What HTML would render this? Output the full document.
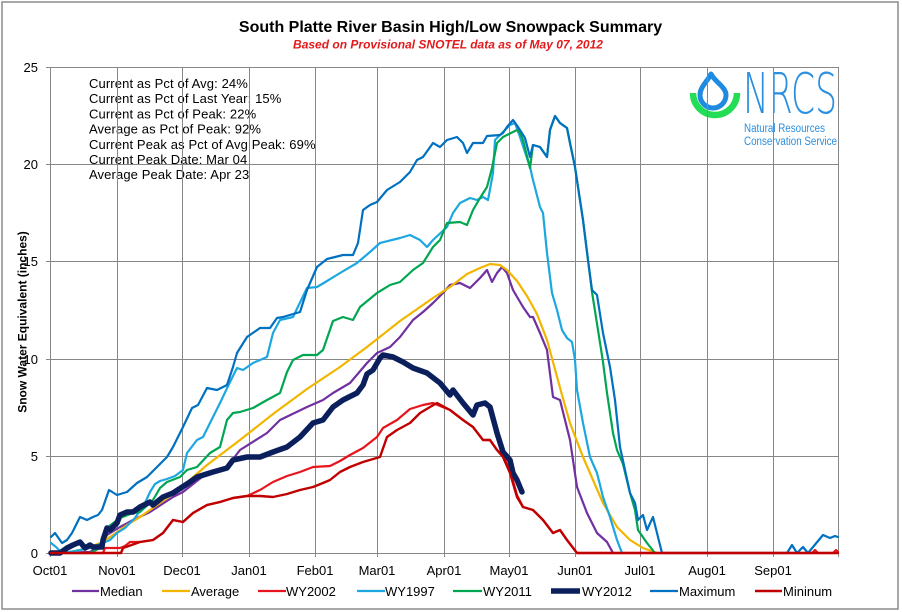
<!DOCTYPE html>
<html><head><meta charset="utf-8"><style>
html,body{margin:0;padding:0;background:#fff;}
svg{display:block;font-family:"Liberation Sans",Arial,sans-serif;}
</style></head><body>
<svg width="902" height="612" viewBox="0 0 902 612" xmlns="http://www.w3.org/2000/svg">
<rect x="0" y="0" width="902" height="612" fill="#fff"/>
<rect x="2" y="2" width="896" height="607" fill="none" stroke="#8c8c8c" stroke-width="1.5"/>

<!-- Titles -->
<text x="450.5" y="32" text-anchor="middle" font-weight="bold" font-size="16" fill="#000">South Platte River Basin High/Low Snowpack Summary</text>
<text x="448" y="48.5" text-anchor="middle" font-weight="bold" font-style="italic" font-size="12" fill="#e31a1c">Based on Provisional SNOTEL data as of May 07, 2012</text>

<!-- Logo -->
<path d="M693,93 A22,22 0 0 0 737,93" fill="none" stroke="#22dd55" stroke-width="6.5"/>
<path d="M711,74 C707,82 700,87 700,95 A13,13 0 0 0 726,95 C726,87 715,82 711,74 Z" fill="#fff" stroke="#1e8be0" stroke-width="5" stroke-linejoin="round"/>
<text x="743" y="113" font-family="DejaVu Sans ExtraLight, DejaVu Sans, Liberation Sans, sans-serif" font-weight="200" font-size="56" textLength="94" lengthAdjust="spacingAndGlyphs" fill="#2a8fe0">NRCS</text>
<text x="744" y="132" font-size="11.5" textLength="81" lengthAdjust="spacingAndGlyphs" fill="#2a8fe0">Natural Resources</text>
<text x="744" y="145" font-size="11.5" textLength="93" lengthAdjust="spacingAndGlyphs" fill="#2a8fe0">Conservation Service</text>

<!-- Stats text -->
<g font-size="13" fill="#000" letter-spacing="0.12">
<text x="89" y="88">Current as Pct of Avg: 24%</text>
<text x="89" y="103.2">Current as Pct of Last Year: 15%</text>
<text x="89" y="118.4">Current as Pct of Peak: 22%</text>
<text x="89" y="133.6">Average as Pct of Peak: 92%</text>
<text x="89" y="148.8">Current Peak as Pct of Avg Peak: 69%</text>
<text x="89" y="164">Current Peak Date: Mar 04</text>
<text x="89" y="179.2">Average Peak Date: Apr 23</text>
</g>

<!-- Grid -->
<g stroke="#878787" stroke-width="1" shape-rendering="crispEdges">
<line x1="46" y1="67.5" x2="838.5" y2="67.5"/>
<line x1="46" y1="164.5" x2="838.5" y2="164.5"/>
<line x1="46" y1="261.5" x2="838.5" y2="261.5"/>
<line x1="46" y1="359.5" x2="838.5" y2="359.5"/>
<line x1="46" y1="456.5" x2="838.5" y2="456.5"/>
<line x1="46" y1="553.5" x2="838.5" y2="553.5"/>
<line x1="50.5" y1="67" x2="50.5" y2="557"/>
<line x1="117.5" y1="67" x2="117.5" y2="557"/>
<line x1="182.5" y1="67" x2="182.5" y2="557"/>
<line x1="249.5" y1="67" x2="249.5" y2="557"/>
<line x1="315.5" y1="67" x2="315.5" y2="557"/>
<line x1="377.5" y1="67" x2="377.5" y2="557"/>
<line x1="444.5" y1="67" x2="444.5" y2="557"/>
<line x1="509.5" y1="67" x2="509.5" y2="557"/>
<line x1="575.5" y1="67" x2="575.5" y2="557"/>
<line x1="640.5" y1="67" x2="640.5" y2="557"/>
<line x1="707.5" y1="67" x2="707.5" y2="557"/>
<line x1="773.5" y1="67" x2="773.5" y2="557"/>
<line x1="838.5" y1="67" x2="838.5" y2="557"/>
</g>

<!-- Axis labels -->
<g font-size="13" fill="#000" text-anchor="end">
<text x="38" y="72">25</text>
<text x="38" y="169">20</text>
<text x="38" y="266">15</text>
<text x="38" y="364">10</text>
<text x="38" y="461">5</text>
<text x="38" y="558">0</text>
</g>
<g font-size="13" fill="#000" text-anchor="middle">
<text x="50" y="575">Oct01</text>
<text x="117" y="575">Nov01</text>
<text x="182" y="575">Dec01</text>
<text x="249" y="575">Jan01</text>
<text x="315" y="575">Feb01</text>
<text x="377" y="575">Mar01</text>
<text x="444" y="575">Apr01</text>
<text x="509" y="575">May01</text>
<text x="575" y="575">Jun01</text>
<text x="640" y="575">Jul01</text>
<text x="707" y="575">Aug01</text>
<text x="773" y="575">Sep01</text>
</g>
<text transform="translate(26.5,322) rotate(-90)" text-anchor="middle" font-weight="bold" font-size="12" fill="#000">Snow Water Equivalent (inches)</text>

<!-- Series -->
<g fill="none" stroke-linejoin="round" stroke-linecap="round">
<!-- Median -->
<polyline stroke="#7030a0" stroke-width="2.2" points="51,553 90,552 100,546 107,535 120,527 133,520 150,512 173,497 183,492 207,473 227,467 240,450 267,433 280,420 307,407 323,400 333,393 350,383 367,363 377,353 390,347 400,337 413,320 423,312 433,303 443,293 450,285 460,283 470,288 480,278 487,270 492,282 497,273 502,267 507,273 513,290 523,307 530,317 533,317 540,333 547,350 553,397 560,400 570,440 577,487 587,513 597,533 607,542 613,553"/>
<!-- Average -->
<polyline stroke="#f2b600" stroke-width="2.2" points="51,553 70,552 85,549 100,543 110,537 120,530 130,523 140,517 150,510 160,503 170,496 183,486 207,465 240,440 273,414 307,389 340,367 367,347 400,321 433,298 450,287 467,274 480,268 490,264 500,265 507,270 517,281 527,296 537,314 547,340 553,362 562,395 570,423 583,457 593,480 603,503 617,527 630,540 643,548 657,553"/>
<!-- WY2002 -->
<polyline stroke="#e8141b" stroke-width="2.2" points="51,553 103,553 105,548 120,548 125,546 130,542 140,542 153,540 163,533 173,520 183,522 193,513 207,505 220,502 233,498 247,496 260,490 273,482 287,476 300,472 313,467 330,466 340,461 350,455 363,448 377,437 383,428 397,420 410,409 423,405 433,403 440,406 450,410 463,420 473,427 483,440 490,440 497,450 503,455 510,470 517,495 523,507 533,510 543,520 553,533 560,530 567,540 577,553 812,553 815,550 818,553 833,553 836,550 838,552"/>
<!-- WY1997 -->
<polyline stroke="#1ca7e1" stroke-width="2.2" points="51,543 56,547 62,553 75,551 90,548 100,544 110,540 117,533 125,528 135,518 145,503 150,492 155,484 160,481 167,479 175,476 183,470 187,453 197,440 203,437 210,423 220,403 230,382 237,368 243,370 253,363 267,357 273,333 280,320 293,317 307,288 317,287 327,281 340,273 357,263 370,252 380,243 400,238 410,235 420,240 427,247 433,240 447,227 453,213 460,203 470,198 477,200 483,197 488,200 493,173 495,140 502,133 510,125 515,123 520,137 530,167 533,180 540,207 543,213 547,253 552,293 557,310 562,330 567,338 572,342 575,360 577,390 583,423 590,457 597,473 603,497 610,517 617,540 622,553"/>
<!-- WY2011 -->
<polyline stroke="#00a650" stroke-width="2.2" points="51,553 90,553 100,548 103,540 108,527 120,518 133,513 140,512 153,500 160,488 167,482 180,477 187,470 197,467 210,453 220,447 227,420 233,413 240,412 253,408 267,400 280,393 287,372 293,360 303,355 317,355 323,350 333,321 343,317 353,320 360,307 377,293 390,285 400,282 413,270 423,263 433,247 440,240 447,223 460,222 467,225 473,210 480,198 487,187 492,168 497,143 503,137 517,130 520,133 523,140 530,168 533,145 540,147 547,157 550,130 555,116 560,123 567,128 570,143 575,167 578,187 583,220 588,260 592,292 598,330 603,362 607,393 613,433 617,450 623,464 630,493 635,510 638,530 647,543 655,553"/>
<!-- WY2012 -->
<polyline stroke="#0a1f5c" stroke-width="5.5" points="51,553 60,553 67,548 73,545 80,542 85,548 90,545 93,547 102,547 103,540 107,528 110,530 117,523 120,515 127,512 133,512 140,507 150,502 153,505 163,497 173,493 187,484 197,477 213,472 227,468 233,460 247,457 260,457 273,452 287,447 300,437 313,423 323,420 333,407 343,400 357,393 363,385 367,374 373,370 380,358 383,355 393,357 403,362 413,368 427,373 440,383 450,395 453,390 463,403 473,415 477,405 485,403 490,407 497,433 503,452 510,460 513,473 517,480 522,492"/>
<!-- Maximum -->
<polyline stroke="#0070c0" stroke-width="2.2" points="51,537 55,533 62,543 67,540 72,533 80,517 87,520 93,517 98,515 102,510 109,490 117,495 127,492 137,483 147,477 157,467 167,457 173,447 183,427 192,408 198,405 207,388 217,390 227,385 233,367 237,353 247,337 260,328 270,328 277,318 283,317 300,312 307,290 317,267 327,259 343,255 353,255 358,243 363,210 370,205 377,202 387,190 400,182 410,172 417,160 423,157 433,143 440,147 447,140 457,137 463,143 467,153 473,143 483,143 487,136 500,135 503,133 507,127 513,120 518,127 525,138 530,157 533,145 540,147 547,157 550,130 555,116 560,123 567,128 570,143 575,167 578,187 583,220 588,260 592,290 597,295 603,333 610,367 615,400 620,447 625,470 630,493 635,503 638,520 643,515 647,530 653,517 662,553 787,553 792,545 797,553 803,547 808,553 813,547 823,535 830,538 835,536 838,537"/>
<!-- Minimum -->
<polyline stroke="#c00000" stroke-width="2.4" points="51,553 121,553 123,548 140,542 153,540 163,533 173,520 183,522 193,513 207,505 220,502 233,498 247,496 260,496 273,497 287,494 300,490 313,487 323,483 330,480 340,472 350,467 363,462 380,457 387,437 397,430 410,423 420,413 430,407 437,403 450,410 463,420 473,427 483,440 490,440 497,450 503,457 510,473 517,497 523,507 533,510 543,520 553,533 560,530 567,540 577,553 838,553"/>
</g>

<!-- Legend -->
<g stroke-linecap="butt">
<line x1="72" y1="591" x2="99" y2="591" stroke="#7030a0" stroke-width="2.2"/>
<line x1="162" y1="591" x2="190" y2="591" stroke="#f2b600" stroke-width="2.2"/>
<line x1="258" y1="591" x2="286" y2="591" stroke="#e8141b" stroke-width="2.2"/>
<line x1="357" y1="591" x2="385" y2="591" stroke="#1ca7e1" stroke-width="2.2"/>
<line x1="453" y1="591" x2="482" y2="591" stroke="#00a650" stroke-width="2.2"/>
<line x1="551" y1="591" x2="580" y2="591" stroke="#0a1f5c" stroke-width="5.5"/>
<line x1="650" y1="591" x2="678" y2="591" stroke="#0070c0" stroke-width="2.2"/>
<line x1="755" y1="591" x2="782" y2="591" stroke="#c00000" stroke-width="2.4"/>
</g>
<g font-size="13" fill="#000">
<text x="100" y="596">Median</text>
<text x="191" y="596">Average</text>
<text x="286" y="596">WY2002</text>
<text x="385" y="596">WY1997</text>
<text x="483" y="596">WY2011</text>
<text x="582" y="596">WY2012</text>
<text x="679" y="596">Maximum</text>
<text x="783" y="596">Mininum</text>
</g>
</svg>
</body></html>
